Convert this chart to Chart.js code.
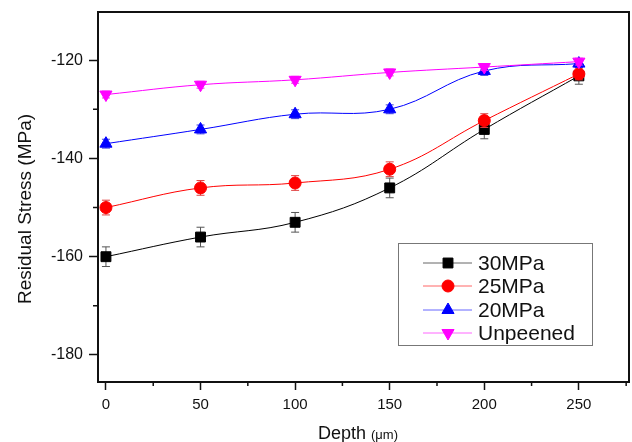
<!DOCTYPE html>
<html lang="en">
<head>
<meta charset="UTF-8">
<title>Residual Stress vs Depth</title>
<style>
    html, body { margin: 0; padding: 0; background: #fff; }
    #wrap { width: 632px; height: 442px; }
</style>
</head>
<body>
<div id="wrap"><canvas id="stressChart" width="632" height="442"></canvas></div>

<script src="https://cdn.jsdelivr.net/npm/chart.js"></script>
<script>
// depth (um) and residual stress (MPa)
const depth = [0, 50, 100, 150, 200, 250];
const s30 = [-160, -156, -153, -146, -134.1, -123.2];
const s25 = [-150, -146, -145, -142.2, -132.3, -122.8];
const s20 = [-137, -134.1, -131, -130, -122.2, -120.7];
const sUn = [-127, -125, -124, -122.5, -121.4, -120.3];

// error bar half-heights (MPa)
const e30 = [2, 2, 2, 2, 1.9, 1.7];
const e25 = [1.5, 1.5, 1.5, 1.5, 1.4, 1.2];
const e20 = [0.9, 0.9, 0.9, 0.9, 0.9, 0.8];
const eUn = [0.7, 0.7, 0.7, 0.7, 0.7, 0.7];

const seriesNames = ['30MPa', '25MPa', '20MPa', 'Unpeened'];

// axis ticks
const xTicks = [0, 50, 100, 150, 200, 250];
const xMinor = [25, 75, 125, 175, 225, 275];
const yTicks = [-180, -160, -140, -120];
const yMinor = [-170, -150, -130];

const FONT = '"Liberation Sans", Arial, sans-serif';

function pts(ys) {
    return depth.map((d, i) => ({ x: d, y: ys[i] }));
}

function series(label, ys, errs, color, barColor, style, radius, rotation, order) {
    return {
        label: label,
        data: pts(ys),
        errors: errs,
        barColor: barColor,
        borderColor: color,
        backgroundColor: color,
        borderWidth: 1,
        tension: 0.4,
        pointStyle: style,
        pointRadius: radius,
        pointRotation: rotation,
        pointBorderWidth: 1,
        pointBackgroundColor: color,
        pointBorderColor: color,
        order: order
    };
}

// error bars, drawn just before each dataset so the markers sit on top
const errorBars = {
    id: 'errorBars',
    beforeDatasetDraw(chart, args) {
        const ds = chart.data.datasets[args.index];
        const xs = chart.scales.x, ys = chart.scales.y;
        const ctx = chart.ctx;
        ctx.save();
        ctx.strokeStyle = ds.barColor;
        ctx.lineWidth = 1;
        ds.data.forEach((p, i) => {
            const e = ds.errors[i];
            const px = xs.getPixelForValue(p.x);
            const top = ys.getPixelForValue(p.y + e);
            const bot = ys.getPixelForValue(p.y - e);
            ctx.beginPath();
            ctx.moveTo(px, top); ctx.lineTo(px, bot);
            ctx.moveTo(px - 4, top); ctx.lineTo(px + 4, top);
            ctx.moveTo(px - 4, bot); ctx.lineTo(px + 4, bot);
            ctx.stroke();
        });
        ctx.restore();
    }
};

// frame, minor ticks, axis titles and the boxed legend
const decorations = {
    id: 'decorations',
    afterDraw(chart) {
        const ctx = chart.ctx;
        const a = chart.chartArea;
        const xs = chart.scales.x, ys = chart.scales.y;
        ctx.save();

        ctx.strokeStyle = '#111';
        ctx.lineWidth = 2;
        ctx.strokeRect(a.left, a.top, a.right - a.left, a.bottom - a.top);

        ctx.lineWidth = 1.5;
        ctx.beginPath();
        yMinor.forEach(v => {
            const py = ys.getPixelForValue(v);
            ctx.moveTo(a.left - 5, py); ctx.lineTo(a.left, py);
        });
        xMinor.forEach(v => {
            const px = xs.getPixelForValue(v);
            ctx.moveTo(px, a.bottom); ctx.lineTo(px, a.bottom + 4);
        });
        ctx.stroke();

        // y title
        ctx.fillStyle = '#111';
        ctx.font = '19px ' + FONT;
        ctx.textAlign = 'center';
        ctx.textBaseline = 'middle';
        ctx.save();
        ctx.translate(26, 209);
        ctx.rotate(-Math.PI / 2);
        ctx.fillText('Residual Stress (MPa)', 0, 0);
        ctx.restore();

        // x title, with the smaller unit
        ctx.textAlign = 'left';
        ctx.textBaseline = 'alphabetic';
        ctx.font = '18px ' + FONT;
        const w1 = ctx.measureText('Depth ').width;
        ctx.fillText('Depth ', 318, 439);
        ctx.font = '13px ' + FONT;
        ctx.fillText('(\u03bcm)', 318 + w1, 439);

        // legend box
        const lx = 398, ly = 243, lw = 194, lh = 102;
        ctx.fillStyle = '#fff';
        ctx.fillRect(lx, ly, lw, lh);
        ctx.strokeStyle = '#777';
        ctx.lineWidth = 1;
        ctx.strokeRect(lx + 0.5, ly + 0.5, lw, lh);

        const rowY = [263, 286, 310, 333];
        ctx.font = '21px ' + FONT;
        ctx.textBaseline = 'middle';
        chart.data.datasets.forEach((ds, i) => {
            const y = rowY[i];
            ctx.strokeStyle = ds.borderColor;
            ctx.globalAlpha = 0.6;
            ctx.beginPath();
            ctx.moveTo(423, y); ctx.lineTo(472, y);
            ctx.stroke();
            ctx.globalAlpha = 1;
            ctx.fillStyle = ds.borderColor;
            ctx.strokeStyle = ds.borderColor;
            Chart.helpers.drawPoint(ctx, {
                pointStyle: ds.pointStyle,
                radius: ds.pointRadius,
                rotation: ds.pointRotation,
                borderWidth: 1
            }, 448, y);
            ctx.fillStyle = '#111';
            ctx.fillText(seriesNames[i], 478, y + 1);
        });

        ctx.restore();
    }
};

new Chart(document.getElementById('stressChart'), {
    type: 'line',
    data: {
        datasets: [
            series(seriesNames[0], s30, e30, '#000000', '#555555', 'rect', 7, 0, 4),
            series(seriesNames[1], s25, e25, '#ff0000', '#e04040', 'circle', 6, 0, 3),
            series(seriesNames[2], s20, e20, '#0000ff', '#4040e0', 'triangle', 7, 0, 2),
            series(seriesNames[3], sUn, eUn, '#ff00ff', '#e040e0', 'triangle', 7, 180, 1)
        ]
    },
    options: {
        responsive: false,
        animation: false,
        devicePixelRatio: 1,
        layout: { autoPadding: false, padding: { top: 12, right: 3, left: 0, bottom: 0 } },
        plugins: {
            legend: { display: false },
            tooltip: { enabled: false }
        },
        scales: {
            x: {
                type: 'linear',
                min: -4.2,
                max: 276.5,
                afterBuildTicks: s => { s.ticks = xTicks.map(v => ({ value: v })); },
                afterFit: s => { s.height = 60; s.paddingLeft = 0; s.paddingRight = 0; },
                grid: {
                    drawOnChartArea: false,
                    drawTicks: true,
                    tickLength: 8,
                    tickWidth: 1.5,
                    tickColor: '#111'
                },
                border: { display: false },
                ticks: {
                    color: '#111',
                    padding: 6,
                    maxRotation: 0,
                    font: { family: FONT, size: 15 }
                }
            },
            y: {
                type: 'linear',
                min: -185.5,
                max: -110.2,
                afterBuildTicks: s => { s.ticks = yTicks.map(v => ({ value: v })); },
                afterFit: s => { s.width = 98; s.paddingTop = 0; s.paddingBottom = 0; },
                grid: {
                    drawOnChartArea: false,
                    drawTicks: true,
                    tickLength: 9,
                    tickWidth: 1.5,
                    tickColor: '#111'
                },
                border: { display: false },
                ticks: {
                    color: '#111',
                    padding: 6,
                    font: { family: FONT, size: 16 }
                }
            }
        }
    },
    plugins: [errorBars, decorations]
});
</script>
</body>
</html>
